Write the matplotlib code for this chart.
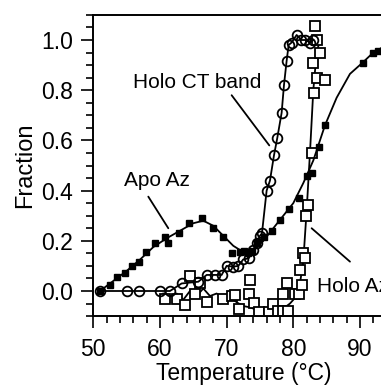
import matplotlib
matplotlib.use("Agg")
import matplotlib.pyplot as plt
from matplotlib.ticker import MultipleLocator

plt.rcParams['font.family'] = ['Liberation Sans', 'DejaVu Sans']

# Apo Az (filled squares)
apo_t = [51.0, 52.5, 53.5, 54.75, 55.75, 56.9, 57.9, 59.25, 60.75, 61.25, 62.9, 64.4,
         66.25, 68.0, 69.4, 70.75, 72.0, 72.6, 73.2, 73.8, 74.5, 75.6, 76.75, 78.0,
         79.3, 80.9, 82.0, 82.8, 83.85, 84.75, 90.4, 91.9, 92.7]
apo_f = [0.0, 0.024, 0.055, 0.07, 0.10, 0.117, 0.154, 0.19, 0.216, 0.19, 0.232, 0.272,
         0.29, 0.25, 0.216, 0.15, 0.155, 0.16, 0.15, 0.16, 0.19, 0.215, 0.24, 0.283,
         0.325, 0.37, 0.46, 0.47, 0.575, 0.66, 0.907, 0.95, 0.955]

# fitted Apo Az trace
apo_fit_t = [51.0, 53.0, 55.0, 57.0, 59.0, 61.0, 63.0, 65.0, 66.5, 68.0, 69.5, 71.0,
             72.5, 74.0, 75.5, 77.0, 78.5, 80.0, 81.5, 83.0, 84.75, 86.5, 88.5, 90.4,
             92.0, 94.0, 96.0]
apo_fit_f = [0.0, 0.04, 0.08, 0.125, 0.175, 0.21, 0.24, 0.27, 0.28, 0.26, 0.22, 0.18,
             0.155, 0.16, 0.2, 0.25, 0.3, 0.35, 0.43, 0.52, 0.66, 0.77, 0.865, 0.91,
             0.95, 0.98, 1.0]

# Holo CT band (open circles)
ct_t = [51.0, 55.1, 56.9, 60.0, 61.5, 63.25, 65.75, 67.0, 68.25, 69.25, 70.0, 71.0,
        71.75, 72.5, 73.3, 74.0, 74.5, 75.0, 75.3, 76.0, 76.5, 77.1, 77.6, 78.25,
        78.6, 79.0, 79.3, 79.75, 80.5, 81.2, 81.8, 82.5, 83.0]
ct_f = [0.0, 0.0, 0.0, 0.0, 0.0, 0.03, 0.037, 0.064, 0.064, 0.064, 0.10, 0.097,
        0.10, 0.126, 0.13, 0.163, 0.19, 0.22, 0.23, 0.40, 0.44, 0.54, 0.61, 0.71,
        0.82, 0.917, 0.98, 0.99, 1.02, 1.0, 1.0, 0.99, 1.0]

# Holo Az (open squares)
holo_t = [60.75, 62.5, 63.75, 64.5, 65.25, 66.0, 67.0, 69.4, 70.75, 71.25, 71.9,
          73.4, 73.5, 74.1, 74.9, 76.4, 77.0, 77.7, 78.4, 78.5, 79.1, 79.2, 80.25,
          80.9, 81.0, 81.25, 81.4, 81.75, 81.9, 82.25, 82.75, 83.0, 83.1, 83.25,
          83.5, 83.5, 84.0, 84.75]
holo_f = [-0.03, -0.03, -0.056, 0.06, -0.01, 0.03, -0.043, -0.033, -0.02, -0.016, -0.07,
          -0.013, 0.044, -0.047, -0.082, -0.082, -0.052, -0.08, -0.08, -0.01, 0.03, -0.08,
          -0.01, -0.01, 0.084, 0.024, 0.15, 0.13, 0.30, 0.343, 0.55, 0.91, 0.79, 1.055,
          0.85, 1.0, 0.95, 0.84]

# smoothed Holo Az trace
holo_line_t = [60.5, 61.5, 62.5, 63.5, 64.5, 65.5, 66.5, 67.5, 68.5, 69.5, 70.5, 71.5,
               72.5, 73.5, 74.5, 75.5, 76.5, 77.5, 78.5, 79.5, 80.5, 81.0, 81.5, 82.0,
               82.5, 83.0, 83.5, 84.0]
holo_line_f = [-0.01, -0.02, -0.01, -0.035, 0.0, -0.02, 0.01, -0.02, -0.01, -0.03, -0.02,
               -0.045, -0.06, -0.065, -0.075, -0.085, -0.085, -0.08, -0.07, -0.05, -0.02,
               0.03, 0.12, 0.32, 0.55, 0.8, 0.95, 1.0]

fig = plt.figure(figsize=(3.81, 3.87), dpi=100)
ax = fig.add_axes([93.3 / 381, 70.9 / 387, 300 / 381, 301.2 / 387])

ax.plot(holo_line_t, holo_line_f, '-', color='black', lw=1.3)
ax.plot(holo_t, holo_f, 's', ms=6.5, mfc='white', mec='black', mew=1.3)
ax.plot(ct_t, ct_f, '-o', color='black', lw=1.3, ms=7, mfc='none', mew=1.3)
ax.plot(apo_fit_t, apo_fit_f, '-', color='black', lw=1.3)
ax.plot(apo_t, apo_f, 's', color='black', ms=4.3, mfc='black')

# labels and their pointer lines
ax.text(55.95, 0.83, 'Holo CT band', fontsize=15, va='center', ha='left')
ax.annotate('', xy=(76.4, 0.58), xytext=(70.75, 0.78),
            arrowprops=dict(arrowstyle='-', color='black', lw=1.3, shrinkA=0, shrinkB=0))
ax.text(59.5, 0.44, 'Apo Az', fontsize=15, va='center', ha='center')
ax.annotate('', xy=(61.25, 0.25), xytext=(58.25, 0.376),
            arrowprops=dict(arrowstyle='-', color='black', lw=1.3, shrinkA=0, shrinkB=0))
ax.text(83.55, 0.017, 'Holo Az', fontsize=15, va='center', ha='left')
ax.annotate('', xy=(88.5, 0.117), xytext=(82.75, 0.25),
            arrowprops=dict(arrowstyle='-', color='black', lw=1.3, shrinkA=0, shrinkB=0))

ax.set_xlim(50, 95)
ax.set_ylim(-0.1, 1.1)
ax.xaxis.set_major_locator(MultipleLocator(10))
ax.xaxis.set_minor_locator(MultipleLocator(2))
ax.set_yticks([0.0, 0.2, 0.4, 0.6, 0.8, 1.0])
ax.set_yticklabels(['0.0', '0.2', '0.4', '0.6', '0.8', '1.0'])
ax.yaxis.set_minor_locator(MultipleLocator(0.05))

ax.tick_params(which='major', direction='out', length=8.5, width=1.2, labelsize=16.5)
ax.tick_params(axis='y', which='major', pad=6)
ax.tick_params(axis='x', which='major', pad=7)
ax.tick_params(which='minor', direction='out', length=5, width=1.2)
for s in ax.spines.values():
    s.set_linewidth(1.4)

ax.set_xlabel('Temperature (°C)', fontsize=16.5, labelpad=1)
ax.set_ylabel('Fraction', fontsize=17, labelpad=4)

fig.savefig('out.png', dpi=100)
